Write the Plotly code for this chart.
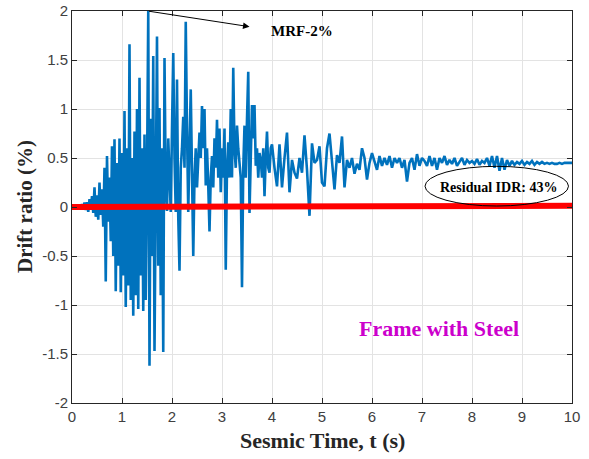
import numpy as np
import plotly.graph_objects as go

# Dense part: 0 - 4 s, dt = 0.025 s
drift_early = [
    0.0, 0.0, 0.01, -0.01, 0.02, -0.01, 0.02, -0.02, 0.03, -0.01,
    0.045, -0.03, 0.05, -0.05, 0.08, -0.03, 0.11, -0.06, 0.2, -0.1,
    0.12, -0.13, 0.25, -0.08, 0.18, -0.2, 0.4, -0.76, 0.52, -0.15,
    0.3, -0.35, 0.62, -0.5, 0.69, -0.86, 0.45, -0.6, 0.7, -0.87,
    0.55, -0.7, 0.98, -1.02, 0.6, -0.8, 1.66, -0.95, 0.5, -1.11,
    0.77, -0.9, 1.0, -1.04, 1.32, -0.7, 0.6, -1.06, 0.74, -0.95,
    0.3, 2.0, -1.62, 0.9, -0.5, 1.54, -1.47, 0.5, 1.74, -0.6,
    1.01, -0.9, 0.6, -1.48, 1.52, 0.2, -0.04, 0.7, 0.2, -0.05,
    0.8, 1.57, 0.5, -0.05, 1.3, -0.1, -0.65, 0.4, 0.6, 0.92,
    0.4, 1.89, 0.8, -0.05, 0.6, 1.2, 0.35, -0.5, 0.3, 0.6,
    0.2, 0.55, 0.76, 0.5, 1.03, 0.6, 1.0, 0.22, 0.6, 0.22,
    -0.25, 0.3, 0.52, 0.2, 0.7, 0.4, 0.89, 0.3, 0.8, 0.15,
    0.6, 0.3, 0.8, -0.64, 0.4, 0.66, 0.3, 1.0, 0.3, 1.42,
    0.59, 0.4, 0.83, 0.6, 0.4, 0.3, -0.82, 0.4, 0.83, 0.3,
    0.9, 1.38, -0.06, 0.5, 1.04, 0.7, 1.04, 0.42, 0.6, 0.3,
    0.55, 0.48, 0.3, 0.6, 0.11, 0.5, 0.77, 0.4, 0.35, 0.6,
    0.64,
]
# Decaying part: 4.05 - 10 s, dt = 0.05 s
drift_late = [
    0.4, 0.21, 0.64, 0.2, 0.5, 0.76, 0.15, 0.48, 0.35, 0.29,
    0.5, 0.35, 0.73, 0.38, -0.09, 0.65, 0.45, 0.48, 0.62, 0.25,
    0.21, 0.6, 0.75, 0.45, 0.18, 0.53, 0.45, 0.72, 0.2, 0.48,
    0.4, 0.5, 0.34, 0.44, 0.38, 0.6, 0.5, 0.28, 0.45, 0.55,
    0.45, 0.38, 0.52, 0.42, 0.5, 0.43, 0.52, 0.4, 0.5, 0.45,
    0.5, 0.4, 0.48, 0.26, 0.45, 0.5, 0.38, 0.54, 0.42, 0.5,
    0.47, 0.42, 0.52, 0.42, 0.5, 0.38, 0.5, 0.45, 0.52, 0.43,
    0.48, 0.44, 0.5, 0.42, 0.46, 0.5, 0.43, 0.48, 0.45, 0.47,
    0.44, 0.49, 0.43, 0.47, 0.45, 0.5, 0.42, 0.52, 0.4, 0.52,
    0.37, 0.5, 0.38, 0.48, 0.42, 0.47, 0.43, 0.46, 0.44, 0.47,
    0.43, 0.46, 0.44, 0.47, 0.43, 0.46, 0.44, 0.46, 0.44, 0.45,
    0.44, 0.45, 0.44, 0.44, 0.45, 0.44, 0.45, 0.45, 0.45, 0.45,
]
zero_line_t = [0, 10]
zero_line_y = [0.0, 0.012]

x_ticks = [0, 1, 2, 3, 4, 5, 6, 7, 8, 9, 10]
y_ticks = [-2, -1.5, -1, -0.5, 0, 0.5, 1, 1.5, 2]
y_tick_labels = ["-2", "-1.5", "-1", "-0.5", "0", "0.5", "1", "1.5", "2"]

t_early = np.arange(len(drift_early)) * 0.025
t_late = 4.0 + (np.arange(len(drift_late)) + 1) * 0.05
t = np.concatenate([t_early, t_late])
drift = np.array(drift_early + drift_late)

fig = go.Figure()
fig.add_trace(go.Scatter(x=t, y=drift, mode="lines",
                         line=dict(color="#0072BD", width=2.6), showlegend=False))
fig.add_trace(go.Scatter(x=zero_line_t, y=zero_line_y, mode="lines",
                         line=dict(color="#FF0000", width=6), showlegend=False))

serif = "Liberation Serif, Times New Roman, serif"
axis_common = dict(showgrid=True, gridcolor="#e3e3e3", gridwidth=1, automargin=False,
                   zeroline=False, showline=True, linecolor="#262626", linewidth=1,
                   mirror="ticks", ticks="inside", ticklen=5, tickcolor="#262626",
                   ticklabeloverflow="allow",
                   tickfont=dict(family="Liberation Sans, Arial, sans-serif", size=15, color="#404040"))

fig.update_xaxes(range=[0, 10], tickvals=x_ticks, **axis_common)
fig.update_yaxes(range=[-2, 2], tickvals=y_ticks, ticktext=y_tick_labels, **axis_common)

fig.add_annotation(x=0.5, y=-0.096, xref="paper", yref="paper", text="<b>Sesmic Time, t (s)</b>",
                   showarrow=False, yanchor="middle",
                   font=dict(family=serif, size=22, color="#262626"))
fig.add_annotation(x=-0.094, y=0.5, xref="paper", yref="paper", text="<b>Drift ratio (%)</b>",
                   showarrow=False, textangle=-90, xanchor="center", yanchor="middle",
                   font=dict(family=serif, size=21, color="#262626"))

fig.add_annotation(x=3.55, y=1.84, ax=1.51, ay=2.0, axref="x", ayref="y", xref="x", yref="y",
                   text="", showarrow=True, arrowhead=2, arrowsize=1.3, arrowwidth=1, arrowcolor="black")
fig.add_annotation(x=4.6, y=1.8, xref="x", yref="y", text="<b>MRF-2%</b>", showarrow=False,
                   font=dict(family=serif, size=15, color="black"))
fig.add_shape(type="circle", xref="x", yref="y", x0=7.06, x1=9.93, y0=0.01, y1=0.415,
              line=dict(color="black", width=1))
fig.add_annotation(x=8.52, y=0.195, xref="x", yref="y", text="<b>Residual IDR: 43%</b>", showarrow=False,
                   font=dict(family=serif, size=14, color="black"))
fig.add_annotation(x=7.33, y=-1.24, xref="x", yref="y", text="<b>Frame with Steel</b>", showarrow=False,
                   font=dict(family=serif, size=22, color="#CC00CC"))

fig.update_layout(width=589, height=459, margin=dict(l=72, r=17, t=11, b=56),
                  plot_bgcolor="white", paper_bgcolor="white")

# remove the page's default 8 px body margin so the figure sits at the window origin
fig.write_html("out.html", config={"displayModeBar": False},
               post_script="document.body.style.margin='0';")
